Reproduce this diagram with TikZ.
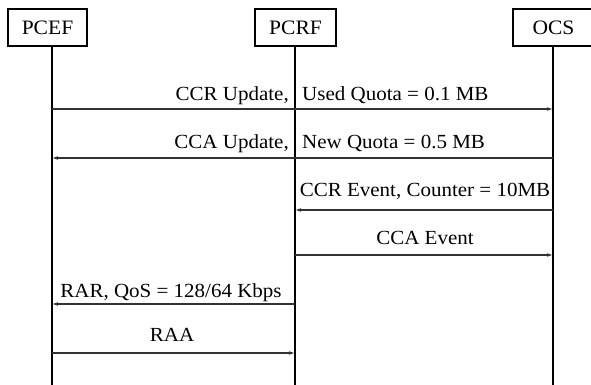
\documentclass[tikz,border=0pt]{standalone}
\usepackage{fontspec}
\setmainfont[FakeStretch=1.05]{Liberation Serif}
\usetikzlibrary{arrows.meta}
\tikzset{
  actor/.style={draw, line width=1.5pt, minimum height=37pt, inner sep=0pt,
    font=\fontsize{20.5}{23}\selectfont},
  life/.style={line width=2.2pt},
  msg/.style={line width=1.2pt, draw=black!80, -{Stealth[length=5pt,width=3.5pt]}},
  lbl/.style={font=\fontsize{20}{23}\selectfont, inner sep=0pt},
}
\begin{document}
\begin{tikzpicture}[x=1pt,y=-1pt]
  \useasboundingbox (0,0) rectangle (591,385);
  % entities
  \node[actor, minimum width=79pt] (pcef) at (47.5,27.5) {PCEF};
  \node[actor, minimum width=81pt] (pcrf) at (295.5,27.5) {PCRF};
  \node[actor, minimum width=81pt] (ocs) at (553.5,27.5) {OCS};
  % lifelines
  \coordinate (pcef-end) at (52,390);
  \coordinate (pcrf-end) at (295,390);
  \coordinate (ocs-end) at (553,390);
  \draw[life] (pcef.south -| pcef-end) -- (pcef-end);
  \draw[life] (pcrf.south -| pcrf-end) -- (pcrf-end);
  \draw[life] (ocs.south -| ocs-end) -- (ocs-end);
  % message rows
  \foreach \m/\y in {1/109,2/158,3/210,4/255,5/304,6/353} {
    \coordinate (pcef-\m) at (52,\y);
    \coordinate (pcrf-\m) at (295,\y);
    \coordinate (ocs-\m) at (553,\y);
  }
  \begin{scope}[shorten >=1pt]
    \draw[msg] (pcef-1) -- (ocs-1);
    \draw[msg] (ocs-2) -- (pcef-2);
    \draw[msg] (ocs-3) -- (pcrf-3);
    \draw[msg] (pcrf-4) -- (ocs-4);
    \draw[msg] (pcrf-5) -- (pcef-5);
    \draw[msg] (pcef-6) -- (pcrf-6);
  \end{scope}
  % labels
  \node[lbl, anchor=base east] (l1a) at (289,101) {CCR Update,};
  \node[lbl, anchor=base west] (l1b) at (302,101) {Used Quota = 0.1 MB};
  \node[lbl, anchor=base east] (l2a) at (289,148) {CCA Update,};
  \node[lbl, anchor=base west] (l2b) at (302,148) {New Quota = 0.5 MB};
  \node[lbl, anchor=base] (l3) at (425,196) {CCR Event, Counter = 10MB};
  \node[lbl, anchor=base] (l4) at (425,244) {CCA Event};
  \node[lbl, anchor=base] (l5) at (171,297) {RAR, QoS = 128/64 Kbps};
  \node[lbl, anchor=base] (l6) at (172,341) {RAA};
\end{tikzpicture}
\end{document}
